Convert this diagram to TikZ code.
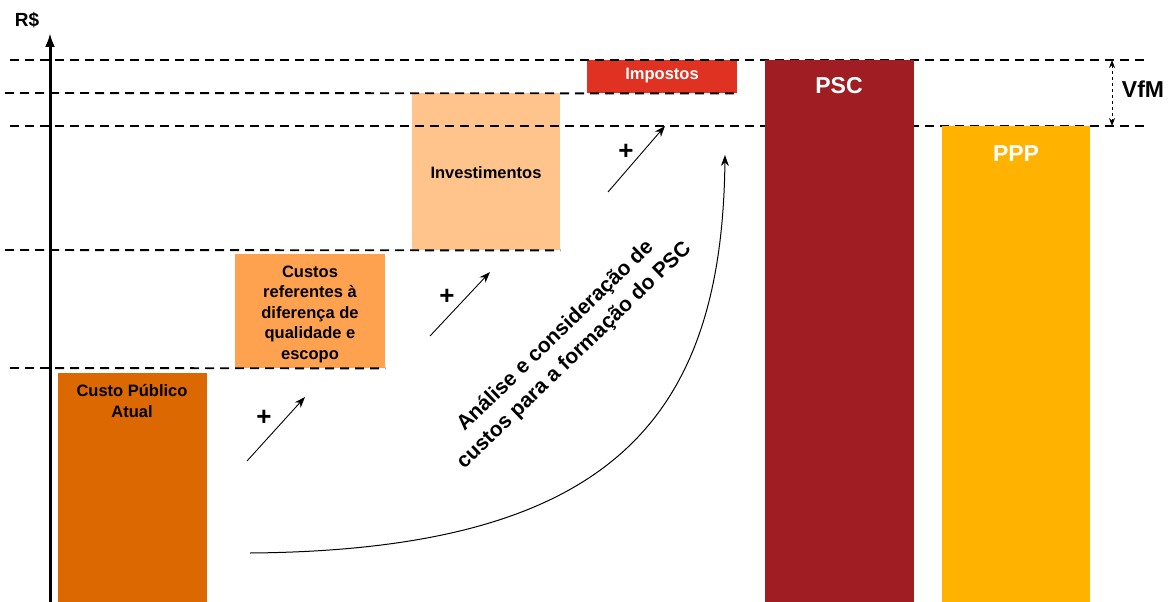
\documentclass[tikz,border=0pt]{standalone}
\usepackage{fontspec}
\setmainfont{Liberation Sans}
\usetikzlibrary{arrows.meta}
\definecolor{cpacol}{HTML}{DB6800}
\definecolor{custcol}{HTML}{FFA24F}
\definecolor{invcol}{HTML}{FFC48C}
\definecolor{impcol}{HTML}{E03222}
\definecolor{psccol}{HTML}{A01E23}
\definecolor{pppcol}{HTML}{FFB300}
\begin{document}
\begin{tikzpicture}[x=1pt,y=-1pt,
  bar/.style={draw=none, rectangle, inner sep=0pt, anchor=north west},
  guide/.style={dash pattern=on 9pt off 6pt, line width=1.9pt},
  incarrow/.style={-{Stealth[length=11pt,width=8pt]}, line width=0.9pt},
  plussign/.style={font=\fontsize{26}{26}\selectfont\bfseries},
  boxtxt/.style={align=center, font=\fontsize{16.5}{20.5}\selectfont\bfseries},
  bigtxt/.style={font=\fontsize{23}{23}\selectfont\bfseries, text=white}
]
\useasboundingbox (0,0) rectangle (1175,602);

% bars
\node[bar, fill=cpacol, minimum width=149pt, minimum height=229pt] (cpa) at (58,373) {};
\node[bar, fill=custcol, minimum width=150pt, minimum height=114pt] (cust) at (235,254) {};
\node[bar, fill=invcol, minimum width=148pt, minimum height=157pt] (inv) at (412,93) {};
\node[bar, fill=impcol, minimum width=150pt, minimum height=33pt] (imp) at (587,60) {};

\node[boxtxt] (cpatxt) at (132,401) {Custo Público\\Atual};
\node[boxtxt] (custtxt) at (310,314) {Custos\\referentes à\\diferença de\\qualidade e\\escopo};
\node[boxtxt] (invtxt) at (486,173) {Investimentos};
\node[boxtxt, text=white] (imptxt) at (662,76) {Impostos};

% guide lines
\coordinate (g1a) at (10,60);
\coordinate (g1b) at (1148,60);
\coordinate (g2a) at (5,93);
\coordinate (g3a) at (10,126);
\coordinate (g3b) at (1148,126);
\coordinate (g4a) at (5,250);
\coordinate (g5a) at (10,368);
\draw[guide] (g1a) -- (g1b);
\draw[guide] (g2a) -- (imp.south east);
\draw[guide] (g3a) -- (g3b);
\draw[guide] (g4a) -- (inv.south east);
\draw[guide] (g5a) -- (cust.south east);

% PSC and PPP
\node[bar, fill=psccol, minimum width=149pt, minimum height=542pt] (psc) at (765,60) {};
\node[bar, fill=pppcol, minimum width=148pt, minimum height=476pt] (ppp) at (942,126) {};
\node[bigtxt] (psctxt) at (839,86) {PSC};
\node[bigtxt] (ppptxt) at (1016,154) {PPP};

% axis
\coordinate (axbot) at (50,602);
\coordinate (axtop) at (50,33);
\draw[line width=3pt, -{Latex[length=14pt,width=10pt]}] (axbot) -- (axtop);
\node[font=\fontsize{19}{19}\selectfont\bfseries] (rs) at (27,20) {R\$};

% VfM
\coordinate (vfmtop) at (1112,60);
\coordinate (vfmbot) at (1112,126);
\draw[dashed, line width=0.9pt, {Stealth[length=8pt,width=6pt]}-{Stealth[length=8pt,width=6pt]}] (vfmtop) -- (vfmbot);
\node[font=\fontsize{23}{23}\selectfont\bfseries] (vfm) at (1143,89) {VfM};

% increment arrows
\coordinate (a1s) at (247,461); \coordinate (a1e) at (305,397);
\coordinate (a2s) at (430,336); \coordinate (a2e) at (490,272);
\coordinate (a3s) at (608,192); \coordinate (a3e) at (665,126);
\draw[incarrow] (a1s) -- (a1e);
\draw[incarrow] (a2s) -- (a2e);
\draw[incarrow] (a3s) -- (a3e);
\node[plussign] (p1) at (264,418) {+};
\node[plussign] (p2) at (447,297) {+};
\node[plussign] (p3) at (626,152) {+};

% big curve
\coordinate (cs) at (250,553);
\coordinate (ce) at (725,155);
\draw[incarrow, line width=1pt] (cs) .. controls (610,550) and (722,420) .. (ce);
\node[rotate=44, align=center, font=\fontsize{21}{27}\selectfont\bfseries] (anl) at (565,346) {Análise e consideração de\\custos para a formação do PSC};
\end{tikzpicture}
\end{document}
